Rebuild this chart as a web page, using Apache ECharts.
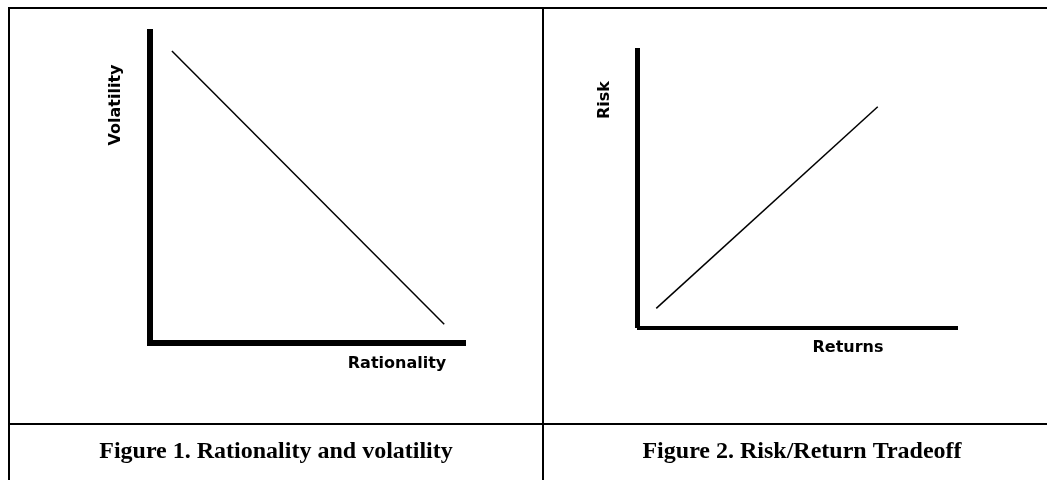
<!DOCTYPE html>
<html>
<head>
<meta charset="utf-8">
<script src="https://cdn.jsdelivr.net/npm/echarts@6/dist/echarts.min.js"></script>
<style>
html,body{margin:0;padding:0;background:#fff;}
#main{width:1047px;height:480px;}
</style>
</head>
<body>
<div id="main"></div>
<script>
// figure 1: rationality vs volatility (falling line)
var fig1X = [7, 94];
var fig1Y = [93, 6];
// figure 2: risk vs returns (rising line)
var fig2X = [6, 75];
var fig2Y = [7, 79];

var captions = ['Figure 1. Rationality and volatility', 'Figure 2. Risk/Return Tradeoff'];
var axisNames = {x1:'Rationality', y1:'Volatility', x2:'Returns', y2:'Risk'};

function toPairs(xs, ys){
	var d = [];
	for(var i=0;i<xs.length;i++){
		d.push([xs[i], ys[i]]);
	}
	return d;
}

function plainAxis(w, cap){
	return {
		type:'value', min:0, max:100,
		axisLine:{show:true, lineStyle:{color:'#000', width:w, cap:cap || 'butt'}},
		axisTick:{show:false},
		axisLabel:{show:false},
		splitLine:{show:false}
	};
}

function nameText(txt, x, y, rot){
	return {
		type:'text', x:x, y:y, rotation:rot || 0,
		style:{text:txt, font:'bold 16px "DejaVu Sans"', fill:'#000', align:'center', verticalAlign:'middle'}
	};
}

function border(x1, y1, x2, y2){
	return {type:'line', shape:{x1:x1, y1:y1, x2:x2, y2:y2}, style:{stroke:'#000', lineWidth:2}};
}

var capStyle = {fontFamily:'"Liberation Serif"', fontWeight:'bold', fontSize:24, color:'#000'};

var x1 = plainAxis(6, 'square'); x1.gridIndex = 0;
var y1 = plainAxis(6); y1.gridIndex = 0;
var x2 = plainAxis(4); x2.gridIndex = 1; x2.offset = 4;
var y2 = plainAxis(5); y2.gridIndex = 1;

var eChart = echarts.init(document.getElementById('main'));
var option = {
	backgroundColor:'#fff',
	animation:false,
	title:[
		{text:captions[0], left:276, top:440, padding:0, textAlign:'center', textStyle:capStyle},
		{text:captions[1], left:802, top:440, padding:0, textAlign:'center', textStyle:capStyle}
	],
	grid:[
		{left:150, top:29, width:313, height:314},
		{left:637, top:48, width:321, height:280}
	],
	xAxis:[x1, x2],
	yAxis:[y1, y2],
	series:[
		{
			type:'line', xAxisIndex:0, yAxisIndex:0,
			data:toPairs(fig1X, fig1Y),
			showSymbol:false, symbol:'none',
			lineStyle:{color:'#000', width:1.5}
		},
		{
			type:'line', xAxisIndex:1, yAxisIndex:1,
			data:toPairs(fig2X, fig2Y),
			showSymbol:false, symbol:'none',
			lineStyle:{color:'#000', width:1.5}
		}
	],
	graphic:[
		// table borders
		border(8, 8, 1047, 8),
		border(9, 7, 9, 480),
		border(543, 7, 543, 480),
		border(8, 424, 1047, 424),
		// axis names
		nameText(axisNames.x1, 397, 364),
		nameText(axisNames.y1, 116, 105, Math.PI/2),
		nameText(axisNames.x2, 848, 348),
		nameText(axisNames.y2, 605, 100, Math.PI/2)
	]
};
eChart.setOption(option);
</script>
</body>
</html>
